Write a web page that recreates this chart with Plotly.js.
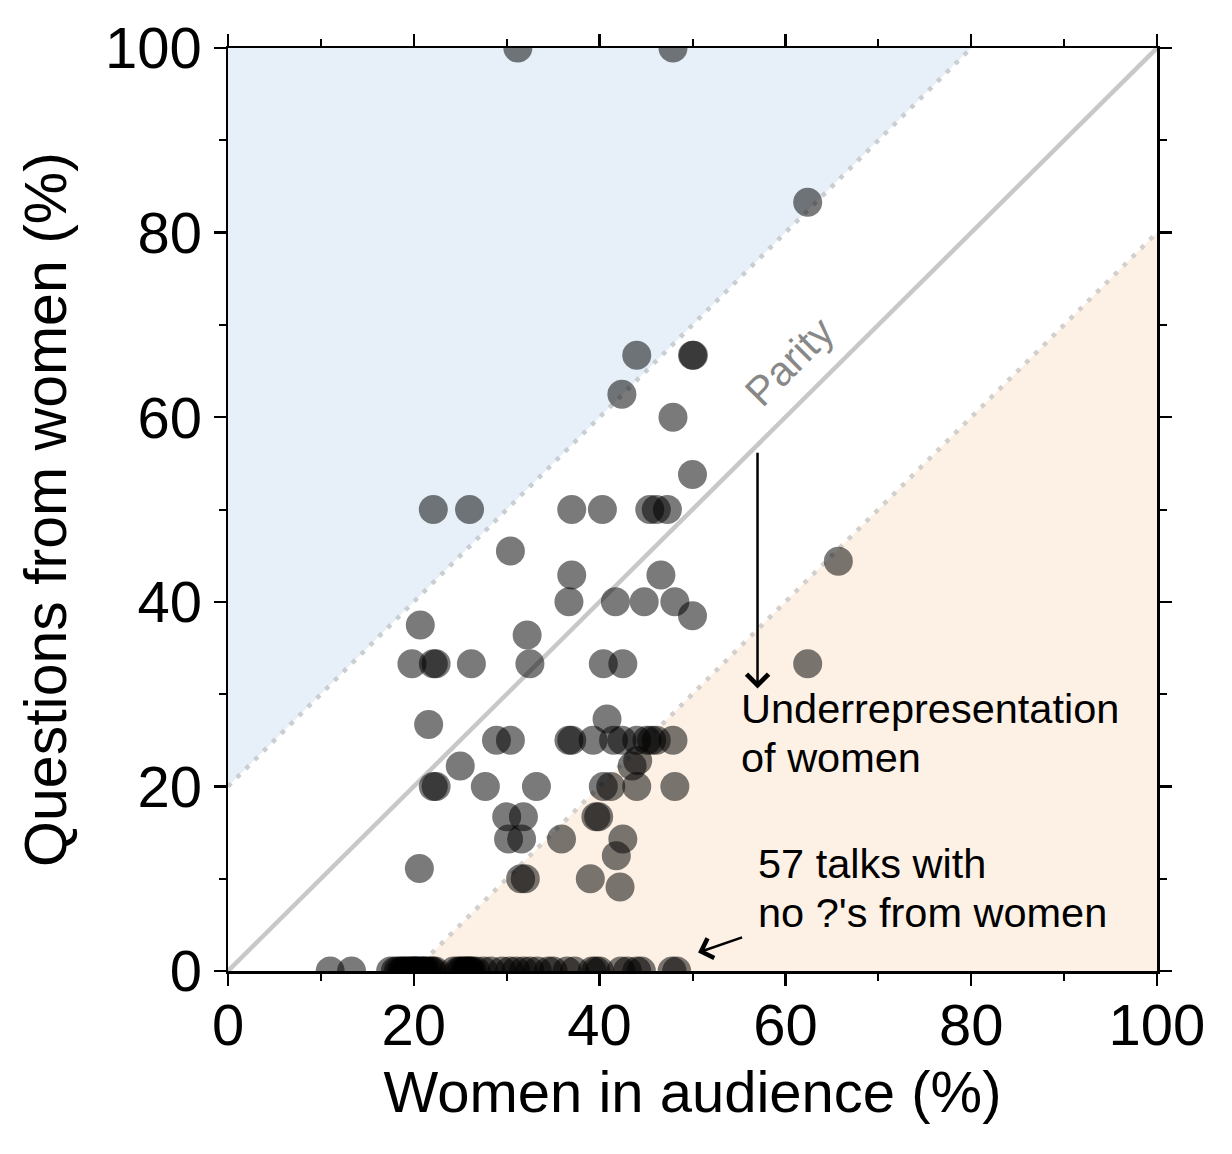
<!DOCTYPE html>
<html>
<head>
<meta charset="utf-8">
<script src="https://cdn.plot.ly/plotly-3.0.1.min.js"></script>
<style>
  html, body { margin: 0; padding: 0; background: #ffffff; }
  #chart { width: 1232px; height: 1154px; }
</style>
</head>
<body>
<div id="chart"></div>
<script>
// ---- data ----
const axisMin = 0;
const axisMax = 100;
const bandOffset = 20;            // width of the shaded bands from parity
const tickVals = [0, 20, 40, 60, 80, 100];
const tickText = ["0", "20", "40", "60", "80", "100"];

// talks with at least one question from a woman
const talkAudience = [
  31.2, 47.9,
  62.4,
  44.0, 50.0, 50.1,
  42.4,
  47.9,
  50.0,
  22.1, 26.0, 37.0, 40.3, 45.4, 46.1, 47.3,
  30.4,
  37.0, 46.6,
  36.7, 41.7, 44.8, 48.1,
  50.0,
  20.7,
  32.2,
  19.8, 22.1, 22.4, 26.2, 32.5, 40.4, 42.5, 62.4,
  65.7,
  21.6,
  40.8,
  28.9, 30.4, 36.7, 37.0, 39.3, 41.5, 42.4, 44.0, 45.1, 45.6, 46.1, 47.9,
  25.0, 43.5, 44.1,
  22.1, 22.4, 27.7, 33.2, 40.4, 41.2, 44.0, 48.1,
  30.0, 31.8, 39.6, 39.9,
  30.2, 31.6, 35.9, 42.5,
  41.8,
  20.6,
  31.5, 32.0, 39.0,
  42.2
];
const talkQuestions = [
  100, 100,
  83.3,
  66.7, 66.7, 66.7,
  62.5,
  60.0,
  53.8,
  50, 50, 50, 50, 50, 50, 50,
  45.5,
  42.9, 42.9,
  40, 40, 40, 40,
  38.5,
  37.5,
  36.4,
  33.3, 33.3, 33.3, 33.3, 33.3, 33.3, 33.3, 33.3,
  44.4,
  26.7,
  27.3,
  25, 25, 25, 25, 25, 25, 25, 25, 25, 25, 25, 25,
  22.2, 22.2, 22.8,
  20, 20, 20, 20, 20, 20, 20, 20,
  16.7, 16.7, 16.7, 16.7,
  14.3, 14.3, 14.3, 14.3,
  12.5,
  11.1,
  10, 10, 10,
  9.1
];

// 57 talks with no questions from women
const zeroAudience = [
  11.0, 13.3,
  17.5, 18.0, 18.3, 18.6, 18.8, 19.0, 19.2, 19.5, 19.6, 19.8, 20.0, 20.1, 20.2, 20.4, 20.5,
  20.8, 21.0, 21.1, 21.3, 21.6, 21.9, 22.0, 22.3,
  24.3, 24.8, 25.0, 25.2, 25.5, 25.6, 25.8, 26.0, 26.1, 26.3, 26.7,
  27.5, 28.3, 29.5, 30.3, 31.0, 31.8, 32.5, 33.3, 34.5, 35.0, 36.5, 37.3,
  39.2, 39.6, 40.0, 42.3, 43.0, 44.0, 44.5, 47.8, 48.3
];
const zeroQuestions = zeroAudience.map(() => 0);

// ---- derived helper geometry (from the constants above) ----
const parityX = [axisMin, axisMax];
const parityY = [axisMin, axisMax];
const upperEdgeX = [axisMin, axisMax - bandOffset];
const upperEdgeY = [axisMin + bandOffset, axisMax];
const lowerEdgeX = [axisMin + bandOffset, axisMax];
const lowerEdgeY = [axisMin, axisMax - bandOffset];

const FONT = "Liberation Sans, Arial, Helvetica, sans-serif";
const pointColor = "rgba(0,0,0,0.52)";

const traces = [
  { // over-representation band
    x: [upperEdgeX[0], upperEdgeX[1], axisMin, upperEdgeX[0]],
    y: [upperEdgeY[0], upperEdgeY[1], axisMax, upperEdgeY[0]],
    mode: "lines", fill: "toself", fillcolor: "#e7f0f8",
    line: { width: 0 }, hoverinfo: "skip", showlegend: false
  },
  { // under-representation band
    x: [lowerEdgeX[0], lowerEdgeX[1], axisMax, lowerEdgeX[0]],
    y: [lowerEdgeY[0], lowerEdgeY[1], axisMin, lowerEdgeY[0]],
    mode: "lines", fill: "toself", fillcolor: "#fdf1e5",
    line: { width: 0 }, hoverinfo: "skip", showlegend: false
  },
  {
    x: upperEdgeX, y: upperEdgeY, mode: "lines",
    line: { color: "#c9ced3", width: 4.5, dash: "4.5px,8px" },
    hoverinfo: "skip", showlegend: false
  },
  {
    x: lowerEdgeX, y: lowerEdgeY, mode: "lines",
    line: { color: "#d2cfcc", width: 4.5, dash: "4.5px,8px" },
    hoverinfo: "skip", showlegend: false
  },
  {
    x: parityX, y: parityY, mode: "lines",
    line: { color: "#c8c8c8", width: 4.5 },
    hoverinfo: "skip", showlegend: false
  },
  {
    x: talkAudience.concat(zeroAudience),
    y: talkQuestions.concat(zeroQuestions),
    mode: "markers", type: "scatter",
    marker: { size: 29, color: pointColor, line: { width: 0 } },
    cliponaxis: true, showlegend: false
  }
];

const axisCommon = {
  range: [axisMin, axisMax],
  tickvals: tickVals,
  ticktext: tickText,
  ticks: "outside",
  ticklen: 12,
  tickwidth: 2.5,
  tickcolor: "#000",
  showline: true,
  linecolor: "#000",
  linewidth: 2.5,
  mirror: "ticks",
  showgrid: false,
  zeroline: false,
  minor: { ticks: "outside", ticklen: 7, tickwidth: 2, tickcolor: "#000", dtick: 10, showgrid: false },
  tickfont: { family: FONT, size: 58, color: "#000" },
  fixedrange: true
};

const layout = {
  width: 1232,
  height: 1154,
  margin: { l: 228, r: 75, t: 48, b: 183 },
  paper_bgcolor: "#ffffff",
  plot_bgcolor: "#ffffff",
  showlegend: false,
  xaxis: Object.assign({}, axisCommon, {
    ticklabelstandoff: -10,
    title: { text: "Women in audience (%)", font: { family: FONT, size: 58, color: "#000" }, standoff: 16 }
  }),
  yaxis: Object.assign({}, axisCommon, {
    title: { text: "Questions from women (%)", font: { family: FONT, size: 59, color: "#000" }, standoff: 20 }
  }),
  annotations: [
    {
      x: 60.4, y: 66.0, xref: "x", yref: "y",
      text: "Parity", showarrow: false, textangle: -45,
      font: { family: FONT, size: 41, color: "#888888" }
    },
    {
      x: 57.0, y: 30.6, xref: "x", yref: "y",
      ax: 57.0, ay: 56.3, axref: "x", ayref: "y",
      text: "", showarrow: true, arrowhead: 4, arrowsize: 1.7, arrowwidth: 2.5, arrowcolor: "#000"
    },
    {
      x: 55.0, y: 28.4, xref: "x", yref: "y", xanchor: "left", yanchor: "middle",
      text: "Underrepresentation", showarrow: false, align: "left",
      font: { family: FONT, size: 41.5, color: "#000" }
    },
    {
      x: 55.0, y: 23.1, xref: "x", yref: "y", xanchor: "left", yanchor: "middle",
      text: "of women", showarrow: false, align: "left",
      font: { family: FONT, size: 41.5, color: "#000" }
    },
    {
      x: 56.8, y: 11.6, xref: "x", yref: "y", xanchor: "left", yanchor: "middle",
      text: "57 talks with", showarrow: false, align: "left",
      font: { family: FONT, size: 41.5, color: "#000" }
    },
    {
      x: 56.8, y: 6.3, xref: "x", yref: "y", xanchor: "left", yanchor: "middle",
      text: "no ?'s from women", showarrow: false, align: "left",
      font: { family: FONT, size: 41.5, color: "#000" }
    },
    {
      x: 50.6, y: 2.0, xref: "x", yref: "y",
      ax: 55.5, ay: 3.7, axref: "x", ayref: "y",
      text: "", showarrow: true, arrowhead: 4, arrowsize: 1.6, arrowwidth: 2.5, arrowcolor: "#000"
    }
  ]
};

Plotly.newPlot("chart", traces, layout, { staticPlot: true, displayModeBar: false });
</script>
</body>
</html>
